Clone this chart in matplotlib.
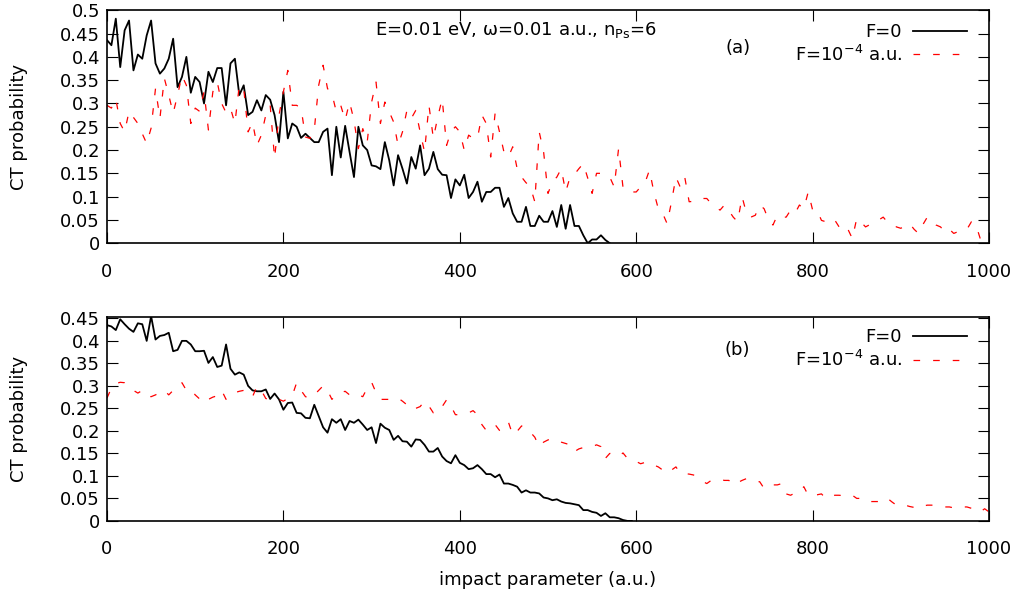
import numpy as np
import matplotlib
matplotlib.use("Agg")
import matplotlib.pyplot as plt
from matplotlib.ticker import FuncFormatter

# impact parameter grids (a.u.)
b_black_a = np.arange(0, 571, 5)
b_black_b = np.arange(0, 596, 5)
b_red = np.arange(0, 1001, 5)

# panel (a): F=0
p0_a = [0.436, 0.425, 0.482, 0.378, 0.457, 0.478, 0.371, 0.405, 0.396, 0.446,
        0.478, 0.386, 0.364, 0.375, 0.396, 0.439, 0.335, 0.357, 0.400, 0.323,
        0.357, 0.346, 0.300, 0.368, 0.346, 0.376, 0.376, 0.296, 0.386, 0.396,
        0.318, 0.339, 0.275, 0.282, 0.307, 0.285, 0.318, 0.308, 0.275, 0.217,
        0.325, 0.225, 0.257, 0.250, 0.226, 0.235, 0.226, 0.217, 0.217, 0.239,
        0.246, 0.146, 0.250, 0.184, 0.252, 0.196, 0.142, 0.250, 0.210, 0.200,
        0.167, 0.165, 0.159, 0.217, 0.178, 0.124, 0.189, 0.160, 0.128, 0.185,
        0.160, 0.210, 0.146, 0.160, 0.196, 0.159, 0.147, 0.146, 0.097, 0.137,
        0.124, 0.147, 0.097, 0.110, 0.132, 0.089, 0.110, 0.110, 0.119, 0.119,
        0.078, 0.097, 0.064, 0.046, 0.046, 0.078, 0.037, 0.037, 0.059, 0.046,
        0.046, 0.069, 0.035, 0.082, 0.031, 0.082, 0.037, 0.037, 0.017, 0.000,
        0.008, 0.008, 0.017, 0.007, 0.000]

# panel (a): F=1e-4 a.u.
p4_a = [0.296, 0.290, 0.310, 0.257, 0.239, 0.283, 0.270, 0.257, 0.235, 0.214,
        0.247, 0.332, 0.268, 0.354, 0.318, 0.279, 0.318, 0.360, 0.339, 0.257,
        0.290, 0.283, 0.325, 0.243, 0.325, 0.346, 0.300, 0.280, 0.290, 0.257,
        0.339, 0.332, 0.239, 0.260, 0.210, 0.232, 0.275, 0.296, 0.182, 0.275,
        0.325, 0.371, 0.296, 0.296, 0.290, 0.228, 0.225, 0.243, 0.339, 0.382,
        0.332, 0.321, 0.282, 0.296, 0.264, 0.303, 0.264, 0.203, 0.246, 0.217,
        0.303, 0.346, 0.257, 0.303, 0.282, 0.260, 0.210, 0.239, 0.285, 0.268,
        0.285, 0.239, 0.196, 0.296, 0.225, 0.271, 0.310, 0.210, 0.240, 0.250,
        0.239, 0.200, 0.232, 0.225, 0.225, 0.275, 0.257, 0.185, 0.279, 0.239,
        0.196, 0.185, 0.207, 0.160, 0.142, 0.130, 0.121, 0.089, 0.239, 0.196,
        0.107, 0.132, 0.142, 0.160, 0.110, 0.142, 0.148, 0.160, 0.171, 0.140,
        0.107, 0.150, 0.150, 0.148, 0.142, 0.121, 0.203, 0.120, 0.120, 0.110,
        0.110, 0.121, 0.130, 0.157, 0.110, 0.074, 0.064, 0.042, 0.089, 0.142,
        0.120, 0.142, 0.089, 0.090, 0.096, 0.096, 0.096, 0.085, 0.078, 0.071,
        0.082, 0.070, 0.056, 0.046, 0.100, 0.064, 0.056, 0.060, 0.082, 0.074,
        0.050, 0.039, 0.060, 0.056, 0.056, 0.071, 0.064, 0.082, 0.074, 0.110,
        0.071, 0.071, 0.049, 0.046, 0.053, 0.050, 0.035, 0.024, 0.030, 0.010,
        0.053, 0.045, 0.035, 0.040, 0.046, 0.050, 0.056, 0.045, 0.042, 0.035,
        0.032, 0.038, 0.042, 0.030, 0.021, 0.040, 0.056, 0.050, 0.039, 0.035,
        0.024, 0.030, 0.021, 0.025, 0.028, 0.030, 0.046, 0.040, 0.010, 0.020,
        0.020]

# panel (b): F=0
p0_b = [0.435, 0.432, 0.424, 0.448, 0.437, 0.427, 0.420, 0.439, 0.437, 0.400,
        0.455, 0.403, 0.411, 0.413, 0.418, 0.377, 0.380, 0.400, 0.400, 0.392,
        0.377, 0.377, 0.378, 0.351, 0.364, 0.342, 0.345, 0.392, 0.338, 0.325,
        0.330, 0.325, 0.300, 0.290, 0.288, 0.288, 0.292, 0.271, 0.283, 0.270,
        0.247, 0.262, 0.263, 0.240, 0.239, 0.229, 0.228, 0.258, 0.233, 0.208,
        0.196, 0.226, 0.218, 0.226, 0.202, 0.222, 0.218, 0.225, 0.214, 0.202,
        0.208, 0.173, 0.216, 0.207, 0.202, 0.180, 0.189, 0.177, 0.176, 0.165,
        0.181, 0.180, 0.169, 0.154, 0.154, 0.162, 0.143, 0.133, 0.128, 0.146,
        0.129, 0.124, 0.115, 0.117, 0.124, 0.115, 0.104, 0.104, 0.097, 0.103,
        0.083, 0.083, 0.080, 0.076, 0.063, 0.068, 0.063, 0.063, 0.061, 0.052,
        0.050, 0.046, 0.048, 0.043, 0.040, 0.039, 0.037, 0.035, 0.024, 0.024,
        0.020, 0.018, 0.011, 0.017, 0.008, 0.008, 0.006, 0.002, 0.000, 0.000]

# panel (b): F=1e-4 a.u.
p4_b = [0.273, 0.295, 0.305, 0.308, 0.307, 0.300, 0.290, 0.284, 0.290, 0.278,
        0.276, 0.280, 0.285, 0.290, 0.280, 0.290, 0.299, 0.307, 0.290, 0.292,
        0.280, 0.271, 0.262, 0.270, 0.275, 0.278, 0.290, 0.270, 0.278, 0.285,
        0.288, 0.290, 0.288, 0.276, 0.299, 0.290, 0.272, 0.269, 0.269, 0.270,
        0.266, 0.272, 0.278, 0.307, 0.290, 0.276, 0.273, 0.280, 0.290, 0.300,
        0.290, 0.270, 0.280, 0.285, 0.288, 0.280, 0.276, 0.280, 0.276, 0.295,
        0.308, 0.285, 0.270, 0.270, 0.270, 0.272, 0.273, 0.266, 0.258, 0.247,
        0.250, 0.254, 0.266, 0.255, 0.240, 0.240, 0.254, 0.269, 0.255, 0.236,
        0.236, 0.237, 0.240, 0.245, 0.236, 0.214, 0.201, 0.208, 0.214, 0.201,
        0.211, 0.220, 0.191, 0.199, 0.211, 0.205, 0.197, 0.186, 0.165, 0.175,
        0.180, 0.183, 0.179, 0.175, 0.172, 0.169, 0.154, 0.160, 0.163, 0.165,
        0.165, 0.169, 0.165, 0.139, 0.150, 0.147, 0.143, 0.151, 0.139, 0.135,
        0.132, 0.127, 0.130, 0.130, 0.124, 0.120, 0.113, 0.106, 0.113, 0.120,
        0.106, 0.105, 0.104, 0.102, 0.095, 0.088, 0.083, 0.090, 0.090, 0.092,
        0.090, 0.090, 0.080, 0.085, 0.090, 0.094, 0.090, 0.088, 0.087, 0.072,
        0.075, 0.080, 0.080, 0.083, 0.060, 0.057, 0.062, 0.064, 0.076, 0.057,
        0.057, 0.058, 0.060, 0.050, 0.053, 0.057, 0.057, 0.056, 0.057, 0.057,
        0.050, 0.050, 0.050, 0.043, 0.043, 0.043, 0.043, 0.050, 0.042, 0.035,
        0.035, 0.035, 0.032, 0.030, 0.028, 0.033, 0.035, 0.035, 0.033, 0.032,
        0.031, 0.031, 0.029, 0.030, 0.031, 0.031, 0.028, 0.026, 0.020, 0.027,
        0.020]

x_ticks = [0, 200, 400, 600, 800, 1000]
y_ticks_a = np.arange(0, 0.501, 0.05)
y_ticks_b = np.arange(0, 0.451, 0.05)

lab0 = "F=0"
lab4 = r"F=10$^{-4}$ a.u."
title_txt = r"E=0.01 eV, ω=0.01 a.u., n$_{\mathrm{Ps}}$=6"

plt.rcParams['font.family'] = ['DejaVu Sans']
plt.rcParams['mathtext.fontset'] = 'dejavusans'
fs = 13

fig = plt.figure(figsize=(10.19, 6.05), dpi=100)
ax1 = fig.add_axes([0.105, 0.598, 0.8656, 0.385])
ax2 = fig.add_axes([0.105, 0.139, 0.8656, 0.337])

fmt = FuncFormatter(lambda v, p: "%g" % round(v, 2))

for ax, bb, y0, y4, yt, ytop, tag in [
        (ax1, b_black_a, p0_a, p4_a, y_ticks_a, 0.5, "(a)"),
        (ax2, b_black_b, p0_b, p4_b, y_ticks_b, 0.453, "(b)")]:
    ax.plot(bb, y0, color='black', lw=1.3, label=lab0)
    ax.plot(b_red, y4, color='red', lw=0.9, dashes=(5.3, 10.4), label=lab4)
    ax.set_xlim(0, 1000)
    ax.set_ylim(0, ytop)
    ax.set_xticks(x_ticks)
    ax.set_yticks(yt)
    ax.yaxis.set_major_formatter(fmt)
    ax.tick_params(direction='in', length=8, width=0.8, top=True, right=True,
                   labelsize=fs)
    ax.tick_params(axis='x', pad=14)
    ax.tick_params(axis='y', pad=5)
    for s in ax.spines.values():
        s.set_linewidth(1.2)
    ax.set_ylabel("CT probability", fontsize=fs)
    ax.text(0.715, 0.84, tag, transform=ax.transAxes, fontsize=fs,
            ha='center', va='center')
    ax.legend(loc='upper right', bbox_to_anchor=(0.975, 0.945), frameon=False,
              markerfirst=False, fontsize=fs, handlelength=3.0,
              handletextpad=0.6, borderpad=0, borderaxespad=0, labelspacing=0.2)

ax1.text(0.464, 0.914, title_txt, transform=ax1.transAxes, fontsize=fs,
         ha='center', va='center')
ax1.yaxis.set_label_coords(-0.09, 0.5)
ax2.yaxis.set_label_coords(-0.09, 0.5)
ax2.set_xlabel("impact parameter (a.u.)", fontsize=fs, labelpad=9)

fig.savefig("out.png", dpi=100)
